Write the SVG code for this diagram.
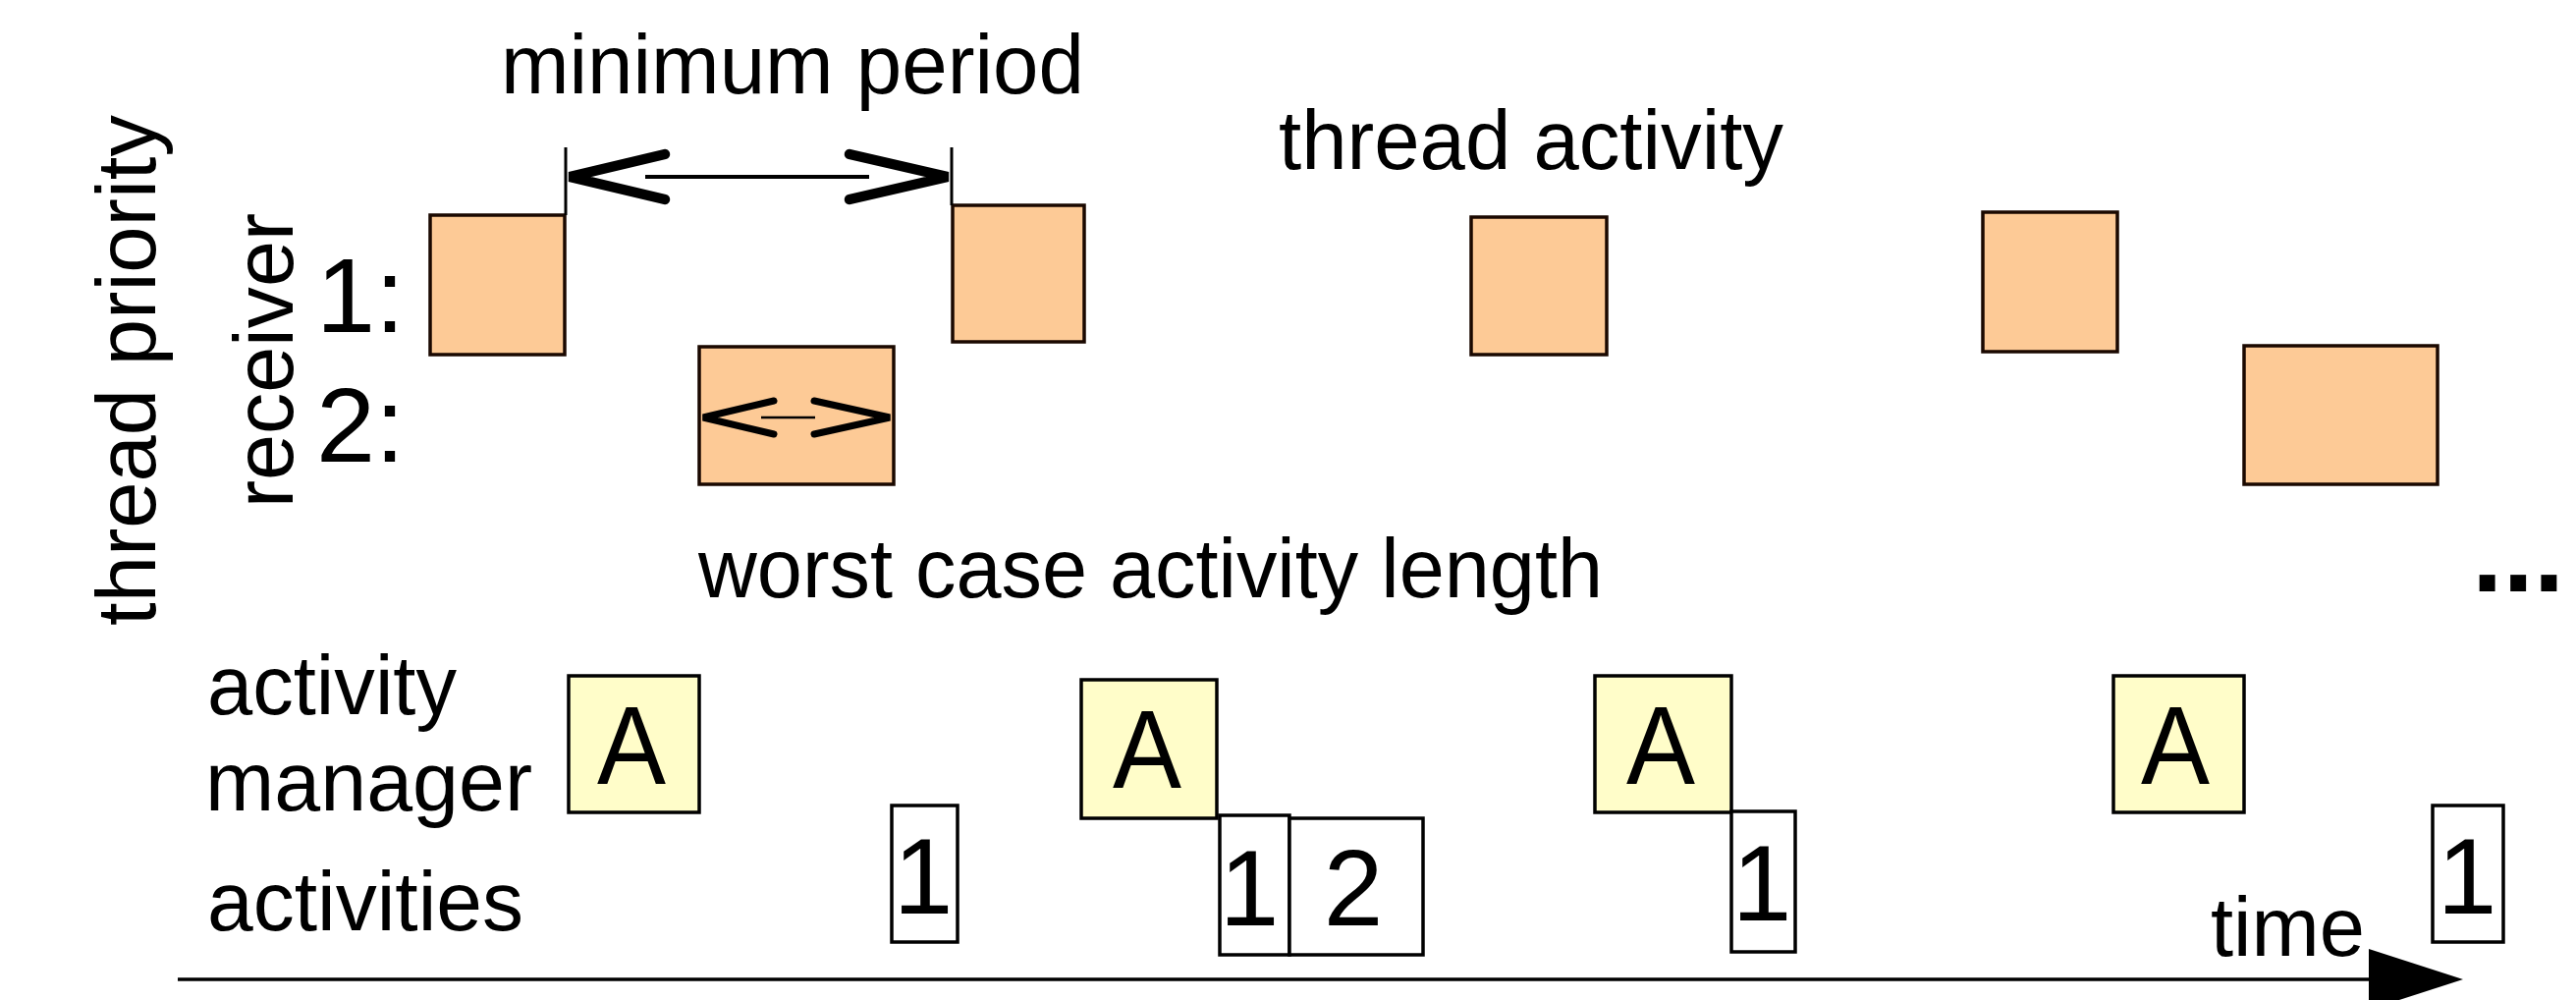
<svg xmlns="http://www.w3.org/2000/svg" width="2623" height="1018" viewBox="0 0 2623 1018">
<style>
  text { font-family: "Liberation Sans", Arial, sans-serif; fill: #000; }
  .lbl { font-size: 85px; }
  .vlbl { font-size: 85px; }
  .num { font-size: 109px; text-anchor: middle; }
  .big { font-size: 113px; text-anchor: middle; }
  .thr { fill: #FDCA96; stroke: #1a0800; stroke-width: 3.5; }
  .mgr { fill: #FFFDC9; stroke: #000; stroke-width: 3.5; }
  .act { fill: #FFFFFF; stroke: #000; stroke-width: 3.5; }
  .tick { stroke: #000; stroke-width: 3; fill: none; }
  .chev { stroke: #000; stroke-width: 10.5; fill: none; stroke-linecap: round; stroke-linejoin: miter; }
  .chevs { stroke: #000; stroke-width: 7; fill: none; stroke-linecap: round; stroke-linejoin: miter; }
</style>
<rect x="0" y="0" width="2623" height="1018" fill="#FFFFFF"/>

<!-- labels -->
<g id="labels">
  <text class="vlbl" transform="translate(158,637) rotate(-90)" textLength="520" lengthAdjust="spacingAndGlyphs">thread priority</text>
  <text class="vlbl" transform="translate(298,517) rotate(-90)" textLength="300" lengthAdjust="spacingAndGlyphs">receiver</text>
  <text x="322" y="338" style="font-size:108px">1:</text>
  <text x="322" y="470" style="font-size:108px">2:</text>
  <text class="lbl" x="510" y="95" textLength="594" lengthAdjust="spacingAndGlyphs">minimum period</text>
  <text class="lbl" x="1302" y="172" textLength="514" lengthAdjust="spacingAndGlyphs">thread activity</text>
  <text class="lbl" x="711" y="608" textLength="921" lengthAdjust="spacingAndGlyphs">worst case activity length</text>
  <text class="lbl" x="211" y="727" textLength="254" lengthAdjust="spacingAndGlyphs">activity</text>
  <text class="lbl" x="209" y="825" textLength="333" lengthAdjust="spacingAndGlyphs">manager</text>
  <text class="lbl" x="211" y="947" textLength="322" lengthAdjust="spacingAndGlyphs">activities</text>
  <text class="lbl" x="2251" y="973" textLength="157" lengthAdjust="spacingAndGlyphs">time</text>
  <text x="2517" y="602" style="font-size:113px;font-weight:bold">...</text>
</g>

<!-- thread activity boxes -->
<g id="thread1-a"><rect class="thr" x="438" y="219" width="137" height="142"/></g>
<g id="thread2-a"><rect class="thr" x="712" y="353" width="198" height="140"/></g>
<g id="thread1-b"><rect class="thr" x="970" y="209" width="134" height="139"/></g>
<g id="thread1-c"><rect class="thr" x="1498" y="221" width="138" height="140"/></g>
<g id="thread1-d"><rect class="thr" x="2019" y="216" width="137" height="142"/></g>
<g id="thread2-b"><rect class="thr" x="2285" y="352" width="197" height="141"/></g>

<!-- activity manager boxes -->
<g id="manager-1"><rect class="mgr" x="579" y="688" width="133" height="139"/><text class="big" x="643" y="798" textLength="70" lengthAdjust="spacingAndGlyphs">A</text></g>
<g id="manager-2"><rect class="mgr" x="1101" y="692" width="138" height="141"/><text class="big" x="1168" y="802" textLength="70" lengthAdjust="spacingAndGlyphs">A</text></g>
<g id="manager-3"><rect class="mgr" x="1624" y="688" width="139" height="139"/><text class="big" x="1691" y="798" textLength="70" lengthAdjust="spacingAndGlyphs">A</text></g>
<g id="manager-4"><rect class="mgr" x="2152" y="688" width="133" height="139"/><text class="big" x="2215" y="798" textLength="70" lengthAdjust="spacingAndGlyphs">A</text></g>

<!-- activity boxes -->
<g id="activity-1a"><rect class="act" x="908" y="820" width="67" height="139"/><text class="num" x="940" y="930">1</text></g>
<g id="activity-1b"><rect class="act" x="1242" y="830" width="71" height="142"/><text class="num" x="1272" y="942">1</text></g>
<g id="activity-2"><rect class="act" x="1313" y="833" width="136" height="139"/><text class="num" x="1378" y="942">2</text></g>
<g id="activity-1c"><rect class="act" x="1763" y="826" width="65" height="143"/><text class="num" x="1794" y="937">1</text></g>
<g id="activity-1d"><rect class="act" x="2477" y="820" width="72" height="139"/><text class="num" x="2512" y="930">1</text></g>

<!-- connectors -->
<g id="connectors">
  <line class="tick" x1="576" y1="150" x2="576" y2="219"/>
  <line class="tick" x1="969" y1="150" x2="969" y2="209"/>
  <line x1="657" y1="180" x2="885" y2="180" stroke="#000" stroke-width="4"/>
  <polyline class="chev" points="677,157 580,180 677,203"/>
  <polyline class="chev" points="865,157 965,180 865,203"/>
  <line x1="775" y1="425" x2="830" y2="425" stroke="#000" stroke-width="2.5"/>
  <polyline class="chevs" points="788,408 716,425 788,442"/>
  <polyline class="chevs" points="829,408 906,425 829,442"/>
  <line x1="181" y1="997" x2="2415" y2="997" stroke="#000" stroke-width="3.5"/>
  <polygon points="2412,966 2508,997 2412,1028" fill="#000"/>
</g>
</svg>
